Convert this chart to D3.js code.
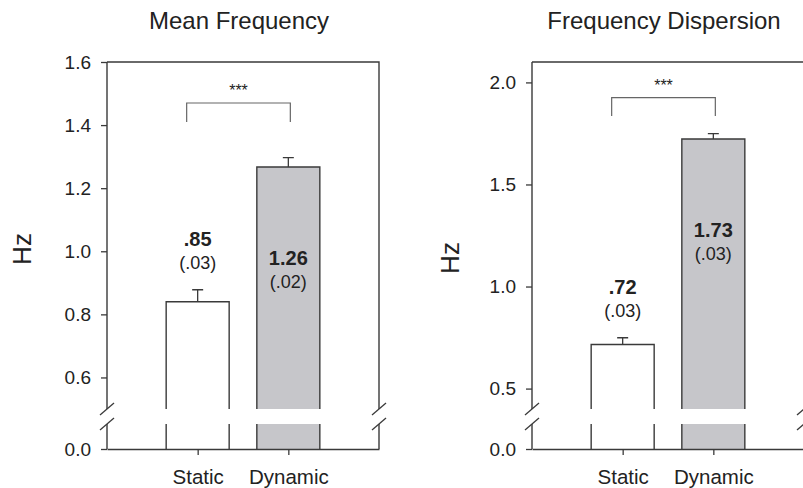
<!DOCTYPE html>
<html>
<head>
<meta charset="utf-8">
<script src="https://cdn.jsdelivr.net/npm/d3@7"></script>
<style>
  body { margin: 0; background: #fff; }
  svg { display: block; font-family: "Liberation Sans", Arial, sans-serif; }
</style>
</head>
<body>
<div id="chart"></div>
<script>
// data
const categories = ["Static", "Dynamic"];
const titles = ["Mean Frequency", "Frequency Dispersion"];

const meanFreq = [0.84, 1.267];
const meanFreqErr = [0.038, 0.03];
const meanFreqLabels = [".85", "1.26"];
const meanFreqSE = ["(.03)", "(.02)"];
const meanFreqTicks = [0.6, 0.8, 1.0, 1.2, 1.4, 1.6];
const meanFreqBracket = [1.47, 1.41];

const dispersion = [0.716, 1.723];
const dispersionErr = [0.033, 0.026];
const dispersionLabels = [".72", "1.73"];
const dispersionSE = ["(.03)", "(.03)"];
const dispersionTicks = [0.5, 1.0, 1.5, 2.0];
const dispersionBracket = [1.925, 1.835];

const labelInside = [false, true];

const W = 803, H = 488;
const svg = d3.select("#chart").append("svg")
  .attr("width", W)
  .attr("height", H);

const lineCol = "#3a3a3a";
const textCol = "#222";
const barFill = ["#ffffff", "#c6c6ca"];

// layout of each panel
const panels = [
  { title: titles[0], vals: meanFreq, errs: meanFreqErr, labels: meanFreqLabels, se: meanFreqSE,
    ticks: meanFreqTicks, domain: [0.5, 1.6], bracket: meanFreqBracket,
    x0: 107, x1: 379, hzX: 31, hzY: 249 },
  { title: titles[1], vals: dispersion, errs: dispersionErr, labels: dispersionLabels, se: dispersionSE,
    ticks: dispersionTicks, domain: [0.4, 2.1], bracket: dispersionBracket,
    x0: 532, x1: 804, hzX: 459, hzY: 258 }
];

const yTop = 62, breakTop = 409, breakBot = 424, yZero = 449;

panels.forEach(p => drawPanel(p));

function drawPanel(p) {
  const g = svg.append("g");

  const x = d3.scalePoint()
    .domain(categories)
    .range([p.x0, p.x1])
    .padding(1);

  const y = d3.scaleLinear()
    .domain(p.domain)
    .range([breakTop, yTop]);

  const yLow = d3.scaleLinear()
    .domain([0, 0.08])
    .range([yZero, breakBot]);

  const barW = 63;

  // bars, cut at the break
  categories.forEach((c, i) => {
    const cx = x(c), bx0 = cx - barW / 2, bx1 = cx + barW / 2;
    const top = y(p.vals[i]);
    g.append("rect")
      .attr("x", bx0).attr("y", top)
      .attr("width", barW).attr("height", breakTop - top)
      .attr("fill", barFill[i]);
    g.append("rect")
      .attr("x", bx0).attr("y", breakBot)
      .attr("width", barW).attr("height", yZero - breakBot)
      .attr("fill", barFill[i]);
    g.append("path")
      .attr("d", `M${bx0},${breakTop}V${top}H${bx1}V${breakTop}M${bx0},${breakBot}V${yZero}M${bx1},${breakBot}V${yZero}`)
      .attr("fill", "none")
      .attr("stroke", lineCol)
      .attr("stroke-width", 1.4);

    // error bar (up only)
    const et = y(p.vals[i] + p.errs[i]);
    g.append("path")
      .attr("d", `M${cx},${top}V${et}M${cx - 5.5},${et}H${cx + 5.5}`)
      .attr("fill", "none")
      .attr("stroke", lineCol)
      .attr("stroke-width", 1.3);

    // value labels
    let yMain, ySe;
    if (labelInside[i]) {
      yMain = top + 98; ySe = top + 121;
    } else {
      yMain = et - 44; ySe = et - 21;
    }
    g.append("text")
      .attr("x", cx).attr("y", yMain)
      .attr("text-anchor", "middle")
      .attr("font-size", 20).attr("font-weight", "bold")
      .attr("fill", textCol)
      .text(p.labels[i]);
    g.append("text")
      .attr("x", cx).attr("y", ySe)
      .attr("text-anchor", "middle")
      .attr("font-size", 18)
      .attr("fill", textCol)
      .text(p.se[i]);
  });

  // frame: top line and right side
  g.append("path")
    .attr("d", `M${p.x0},${yTop}H${p.x1}V${breakTop}M${p.x1},${breakBot}V${yZero}`)
    .attr("fill", "none")
    .attr("stroke", lineCol)
    .attr("stroke-width", 1.4);

  // left axis upper
  const yAxis = d3.axisLeft(y)
    .tickValues(p.ticks)
    .tickFormat(d3.format(".1f"))
    .tickSize(6)
    .tickPadding(10)
    .tickSizeOuter(0);
  const ag = g.append("g")
    .attr("transform", `translate(${p.x0},0)`)
    .call(yAxis);

  // left axis lower
  const yAxisLow = d3.axisLeft(yLow)
    .tickValues([0])
    .tickFormat(d3.format(".1f"))
    .tickSize(6)
    .tickPadding(10)
    .tickSizeOuter(0);
  const ag2 = g.append("g")
    .attr("transform", `translate(${p.x0},0)`)
    .call(yAxisLow);

  [ag, ag2].forEach(a => {
    a.select(".domain").remove();
    a.selectAll("line").attr("stroke", lineCol).attr("stroke-width", 1.3);
    a.selectAll("text").attr("font-size", 19).attr("fill", textCol);
  });
  g.append("path")
    .attr("d", `M${p.x0},${yTop}V${breakTop}M${p.x0},${breakBot}V${yZero}`)
    .attr("stroke", lineCol)
    .attr("stroke-width", 1.4);

  // bottom axis
  const xAxis = d3.axisBottom(x)
    .tickSize(6)
    .tickPadding(14)
    .tickSizeOuter(0);
  const xg = g.append("g")
    .attr("transform", `translate(0,${yZero})`)
    .call(xAxis);
  xg.select(".domain").attr("stroke", lineCol).attr("stroke-width", 1.4);
  xg.selectAll("line").attr("stroke", lineCol).attr("stroke-width", 1.3);
  xg.selectAll("text").attr("font-size", 20.5).attr("fill", textCol);

  // break marks
  [p.x0, p.x1].forEach(ax => {
    [breakTop, breakBot].forEach(by => {
      g.append("line")
        .attr("x1", ax - 7).attr("y1", by + 6)
        .attr("x2", ax + 7).attr("y2", by - 6)
        .attr("stroke", lineCol)
        .attr("stroke-width", 1.3);
    });
  });

  // significance bracket
  const bl = x(categories[0]) - 11, br = x(categories[1]) + 2;
  const bTop = y(p.bracket[0]), bEnd = y(p.bracket[1]);
  g.append("path")
    .attr("d", `M${bl},${bEnd}V${bTop}H${br}V${bEnd}`)
    .attr("fill", "none")
    .attr("stroke", "#666")
    .attr("stroke-width", 1.2);
  g.append("text")
    .attr("x", (bl + br) / 2).attr("y", bTop - 7)
    .attr("text-anchor", "middle")
    .attr("font-size", 16)
    .attr("fill", textCol)
    .text("***");

  // title
  g.append("text")
    .attr("x", (p.x0 + p.x1) / 2 - 4).attr("y", 29)
    .attr("text-anchor", "middle")
    .attr("font-size", 24)
    .attr("fill", textCol)
    .text(p.title);

  // y label
  g.append("text")
    .attr("transform", `translate(${p.hzX},${p.hzY}) rotate(-90)`)
    .attr("text-anchor", "middle")
    .attr("font-size", 26)
    .attr("fill", textCol)
    .text("Hz");
}
</script>
</body>
</html>
